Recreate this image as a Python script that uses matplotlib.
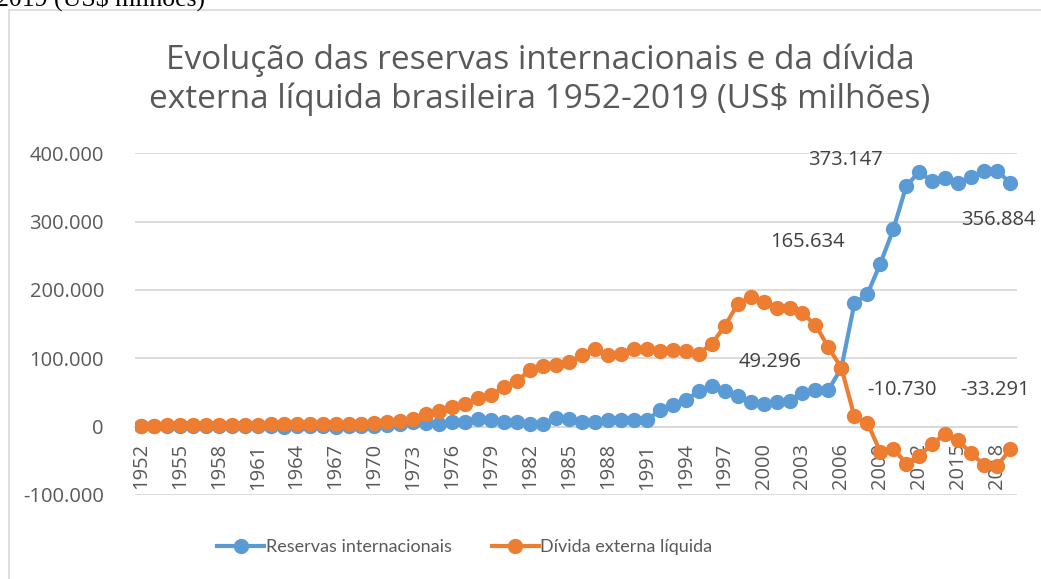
import numpy as np
import matplotlib
matplotlib.use("Agg")
import matplotlib.pyplot as plt
from matplotlib.ticker import FuncFormatter
from matplotlib.patches import Rectangle

years = list(range(1952, 2020))

# reservas internacionais (US$ milhoes)
reservas = [600, 600, 500, 500, 600, 500, 400, 400, 350, 470,
            290, 220, 240, 480, 420, 200, 260, 660, 1187, 1723,
            4183, 6416, 5269, 4040, 6544, 7256, 11895, 9689, 6913, 7507,
            3994, 4563, 11995, 11608, 6760, 7458, 9140, 9679, 9973, 9406,
            23754, 32211, 38806, 51840, 60110, 52173, 44556, 36342, 33011, 35866,
            37823, 49296, 52935, 53799, 85839, 180334, 193783, 238520, 288575, 352012,
            373147, 358808, 363551, 356464, 365016, 373972, 374715, 356884]

# divida externa liquida (US$ milhoes)
divida = [1000, 1500, 1800, 2000, 2200, 2400, 2500, 2700, 2900, 3000,
          3200, 3300, 3300, 3200, 3400, 3800, 4300, 4600, 5500, 7000,
          9000, 10500, 18000, 22500, 28500, 33000, 42000, 46000, 58500, 67000,
          83000, 89000, 90000, 94000, 105000, 114000, 105000, 106000, 113000, 114000,
          111000, 112000, 110000, 107000, 121000, 147000, 179000, 190000, 183000, 174000,
          173000, 165634, 149000, 116000, 86000, 15000, 6000, -37000, -32000, -54000,
          -43000, -25000, -10730, -20000, -39000, -56000, -58000, -33291]

series_names = ["Reservas internacionais", "Dívida externa líquida"]

def fmt(v, pos=None):
    return f"{v:,.0f}".replace(",", ".")

blue = "#5B9BD5"
orange = "#ED7D31"
grey_txt = "#595959"

fig = plt.figure(figsize=(10.41, 5.79), dpi=100)
W, H = 1041, 579

# chart frame and clipped document text above it
fig.patches.append(Rectangle((9 / W, -0.1), 1.2, 1 - 10 / H + 0.1, transform=fig.transFigure,
                             fill=False, edgecolor="#d9d9d9", linewidth=1.2))
fig.text(205 / W, 1 - 6 / H, "2019 (US$ milhões)", family="Liberation Serif",
         fontsize=18.5, color="black", ha="right", va="baseline")

ax = fig.add_axes([134.5 / W, 1 - 495 / H, (1016.5 - 134.5) / W, (495 - 153.3) / H])

ax.plot(years, reservas, color=blue, lw=3, marker="o", ms=10, label=series_names[0], zorder=3)
ax.plot(years, divida, color=orange, lw=3, marker="o", ms=10, label=series_names[1], zorder=4)

ax.set_xlim(1951.5, 2019.5)
ax.set_ylim(-100000, 400000)
ax.set_yticks(range(-100000, 400001, 100000))
ax.yaxis.set_major_formatter(FuncFormatter(fmt))
ax.grid(axis="y", color="#d9d9d9", lw=1.3)
ax.set_axisbelow(True)

for s in ["top", "right", "left"]:
    ax.spines[s].set_visible(False)
ax.spines["bottom"].set_position(("data", 0))
ax.spines["bottom"].set_color("#d9d9d9")
ax.spines["bottom"].set_linewidth(1.3)

ax.set_xticks(years[::3])
ax.set_xticklabels([str(y) for y in years[::3]])
ax.tick_params(axis="x", length=0, pad=12, labelrotation=90, labelsize=14.5, labelcolor=grey_txt)
ax.tick_params(axis="y", length=0, pad=22, labelsize=14.5, labelcolor=grey_txt)
for lab in ax.get_xticklabels() + ax.get_yticklabels():
    lab.set_family("Open Sans")

# data labels: (year, series, dx, dy) offsets in pixels
labels = [(2012, reservas, -74, 12), (2019, reservas, -12, -37), (2003, divida, 5, 71),
          (2003, reservas, -32, 31), (2014, divida, -43, 44), (2019, divida, -15, 59)]
for yr, ser, dx, dy in labels:
    v = ser[years.index(yr)]
    ax.annotate(fmt(v), xy=(yr, v), xytext=(dx, dy), textcoords="offset pixels",
                ha="center", va="center", fontsize=14.5, color="#404040", family="Open Sans")

fig.text(540 / W, 1 - 80 / H, "Evolução das reservas internacionais e da dívida\n"
         "externa líquida brasileira 1952-2019 (US$ milhões)",
         ha="center", va="center", fontsize=24, color=grey_txt, family="Open Sans",
         linespacing=1.2)

fig.legend(loc="center", bbox_to_anchor=(465 / W, 1 - 547 / H), ncol=2, frameon=False,
           prop={"family": "Lato", "size": 13}, labelcolor=grey_txt, handlelength=2.6,
           handletextpad=0.1, columnspacing=2.2)

fig.savefig("out.png", dpi=100)
